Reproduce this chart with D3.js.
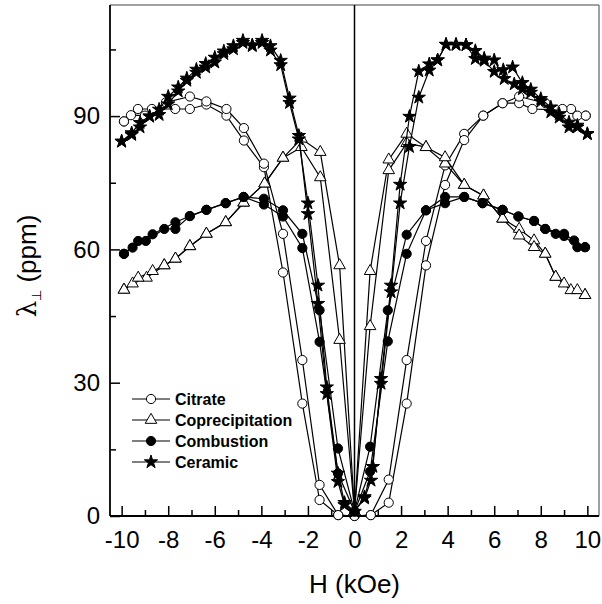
<!DOCTYPE html>
<html>
<head>
<meta charset="utf-8">
<script src="https://cdnjs.cloudflare.com/ajax/libs/d3/7.8.5/d3.min.js"></script>
<style>
body { margin: 0; background: #fff; }
svg { font-family: Arial, "Liberation Sans", sans-serif; }
</style>
</head>
<body>
<svg width="602" height="604"></svg>
<script>
// each loop: field swept down from +10 to -10, then back up
let citrateDown = [[9.93,90.1],[9.3,91.6],[8.64,91.4],[7.64,91.6],[7.07,92.9],[6.36,92.9],[5.53,90.1],[4.71,86.0],[3.89,78.9],[3.07,61.9],[2.24,35.1],[1.47,8.2],[0.7,0.2],[0,0],[-0.7,0.2],[-1.5,3.6],[-2.24,25.3],[-3.07,54.8],[-3.89,78.5],[-4.75,84.5],[-5.5,90.1],[-6.36,92.6],[-7.07,91.6],[-7.7,91.6],[-8.7,91.6],[-9.3,91.6],[-9.9,88.8]];
let citrateUp = [[-9.9,88.8],[-9.6,90.2],[-9.0,90.1],[-8.1,93.1],[-7.07,94.4],[-6.36,93.3],[-5.5,91.6],[-4.75,87.3],[-3.89,79.3],[-3.07,63.5],[-2.24,35.1],[-1.5,7.0],[-0.7,0.2],[0,0],[0.7,0.2],[1.47,3.0],[2.24,25.3],[3.07,56.4],[3.89,74.5],[4.71,84.6],[5.53,90.1],[6.36,92.9],[7.07,94.4],[8.2,92.9],[8.93,91.6],[9.57,90.1],[9.93,90.1]];

let coprecDown = [[9.9,49.7],[9.29,50.8],[8.64,53.8],[8.19,59.0],[7.71,62.0],[7.07,64.6],[6.36,66.9],[5.54,72.1],[4.71,74.5],[3.89,79.3],[3.07,83.0],[2.24,86.0],[1.47,80.2],[0.67,55.1],[0,1.0],[-0.64,39.6],[-1.47,76.2],[-2.28,83.0],[-3.07,80.6],[-3.86,74.8],[-4.76,70.5],[-5.53,66.1],[-6.36,63.5],[-7.07,60.7],[-7.69,57.9],[-8.17,56.4],[-8.93,53.6],[-9.53,52.3],[-9.9,50.9]];
let coprecUp = [[-9.9,50.9],[-9.29,53.6],[-8.67,55.1],[-8.17,56.4],[-7.69,57.9],[-7.07,60.7],[-6.36,63.5],[-5.53,66.1],[-4.76,70.5],[-3.86,74.8],[-3.07,80.6],[-2.28,84.9],[-1.47,81.9],[-0.64,56.4],[0,1.0],[0.67,42.7],[1.47,77.8],[2.24,83.9],[3.07,83.0],[3.89,80.7],[4.71,74.5],[5.54,72.1],[6.36,66.9],[7.07,63.1],[7.71,60.5],[8.19,59.0],[8.64,53.8],[9.0,52.3],[9.57,50.8],[9.9,49.7]];

let combDown = [[9.9,60.5],[9.43,62.0],[9.0,63.5],[8.19,64.6],[7.71,66.4],[7.04,67.4],[6.36,68.9],[5.5,70.4],[4.71,71.8],[3.89,71.8],[3.07,68.8],[2.24,63.3],[1.43,46.3],[0.67,15.6],[0,1.0],[-0.71,9.6],[-1.5,39.2],[-2.24,60.3],[-3.07,67.4],[-3.89,70.1],[-4.76,71.8],[-5.53,70.4],[-6.36,68.9],[-7.07,67.5],[-7.69,64.6],[-8.17,64.6],[-8.96,61.9],[-9.53,60.4],[-9.9,59.0]];
let combUp = [[-9.9,59.0],[-9.29,61.9],[-8.67,63.4],[-7.69,66.1],[-7.07,67.5],[-6.36,68.9],[-5.53,70.4],[-4.76,71.8],[-3.89,71.4],[-3.07,68.8],[-2.24,63.5],[-1.5,46.3],[-0.71,15.2],[0,1.0],[0.67,10.0],[1.43,39.3],[2.24,59.0],[3.07,68.8],[3.89,70.4],[4.71,71.8],[5.5,70.4],[6.36,68.9],[7.04,67.4],[7.71,66.4],[8.19,64.6],[8.64,63.5],[9.0,63.0],[9.57,60.5],[9.9,60.5]];

let ceramicDown = [[10.0,86.0],[9.57,87.9],[9.21,88.6],[8.79,90.5],[8.43,92.0],[8.0,93.9],[7.57,96.0],[7.21,97.5],[6.79,101.0],[6.39,100.4],[6.0,100.0],[5.57,102.5],[5.19,102.9],[4.79,106.0],[4.36,106.1],[3.93,106.1],[3.57,102.6],[3.21,101.7],[2.76,100.1],[2.36,89.9],[1.96,74.6],[1.57,51.9],[1.14,30.9],[0.79,11.1],[0.43,4.3],[0,1.0],[-0.43,2.5],[-0.71,7.7],[-1.19,27.5],[-1.57,47.8],[-2.0,68.0],[-2.39,85.6],[-2.79,94.0],[-3.17,102.5],[-3.61,105.8],[-3.97,107.0],[-4.39,105.8],[-4.79,107.0],[-5.2,105.1],[-5.61,104.0],[-6.0,102.1],[-6.39,101.0],[-6.79,99.8],[-7.2,98.0],[-7.57,95.6],[-8.0,92.7],[-8.39,90.3],[-8.8,89.9],[-9.21,87.5],[-9.57,85.8],[-10.0,84.3]];
let ceramicUp = [[-10.0,84.3],[-9.57,86.2],[-9.21,88.5],[-8.8,90.0],[-8.39,91.5],[-8.0,94.4],[-7.57,96.5],[-7.2,98.5],[-6.79,100.5],[-6.39,101.8],[-6.0,103.2],[-5.61,104.6],[-5.2,105.8],[-4.79,106.5],[-4.39,106.0],[-3.97,106.5],[-3.61,104.8],[-3.17,101.5],[-2.79,93.0],[-2.39,84.8],[-2.0,70.4],[-1.57,51.9],[-1.19,29.0],[-0.71,9.6],[-0.43,3.0],[0,1.0],[0.43,4.0],[0.71,8.0],[1.14,29.8],[1.57,50.4],[1.96,70.4],[2.36,83.1],[2.76,94.2],[3.21,100.3],[3.57,102.6],[3.93,106.1],[4.36,106.1],[4.79,106.0],[5.19,104.7],[5.57,103.0],[6.0,102.6],[6.43,98.4],[6.86,97.2],[7.21,96.1],[7.57,95.3],[8.0,93.3],[8.43,90.9],[8.79,89.7],[9.21,87.5],[9.57,87.5],[10.0,86.0]];

let seriesNames = ["Citrate", "Coprecipitation", "Combustion", "Ceramic"];
let xTicks = [-10, -8, -6, -4, -2, 0, 2, 4, 6, 8, 10];
let xMinor = [-9, -7, -5, -3, -1, 1, 3, 5, 7, 9];
let yTicks = [0, 30, 60, 90];
let yMinor = [15, 45, 75, 105];

let series = [
    {name: seriesNames[0], loops: [citrateDown, citrateUp], shape: "circle", fill: "#fff"},
    {name: seriesNames[1], loops: [coprecDown, coprecUp], shape: "triangle", fill: "#fff"},
    {name: seriesNames[2], loops: [combDown, combUp], shape: "circle", fill: "#000"},
    {name: seriesNames[3], loops: [ceramicDown, ceramicUp], shape: "star", fill: "#000"}
];

let svg = d3.select("svg"),
    margin = {top: 5, right: 3, bottom: 88, left: 110},
    width = svg.attr("width") - margin.left - margin.right,
    height = svg.attr("height") - margin.top - margin.bottom,
    g = svg.append("g").attr("transform", "translate(" + margin.left + "," + margin.top + ")");

let x = d3.scaleLinear().domain([-10.5, 10.5]).range([0, width]),
    y = d3.scaleLinear().domain([0, 115]).range([height, 0]);

let line = d3.line()
    .x(function(d) { return x(d[0]); })
    .y(function(d) { return y(d[1]); });

function drawMarker(sel, s) {
    if (s.shape === "circle") {
        sel.append("circle").attr("r", 4.6);
    } else {
        let type = s.shape === "star" ? d3.symbolStar : d3.symbolTriangle;
        let size = s.shape === "star" ? 55 : 58;
        sel.append("path").attr("d", d3.symbol().type(type).size(size)());
    }
    sel.selectAll("circle, path")
        .attr("fill", s.fill)
        .attr("stroke", "#000")
        .attr("stroke-width", 1);
}

// axes, ticks pointing inward
function styleAxis(a) {
    a.select(".domain").remove();
    a.selectAll("line").attr("stroke", "#000").attr("stroke-width", 1.5);
    a.selectAll("text").attr("fill", "#000").style("font-size", "24px");
}

g.append("g")
    .attr("transform", "translate(0," + height + ")")
    .call(d3.axisBottom(x).tickValues(xTicks).tickSize(-10).tickPadding(15).tickFormat(function(d) { return String(d); }))
    .call(styleAxis);

g.append("g")
    .attr("transform", "translate(0," + height + ")")
    .call(d3.axisBottom(x).tickValues(xMinor).tickSize(-6).tickFormat(""))
    .call(styleAxis);

g.append("g")
    .call(d3.axisLeft(y).tickValues(yTicks).tickSize(-10).tickPadding(10))
    .call(styleAxis);

g.append("g")
    .call(d3.axisLeft(y).tickValues(yMinor).tickSize(-6).tickFormat(""))
    .call(styleAxis);

// frame
g.append("line").attr("x1", 0).attr("x2", width).attr("y1", 0).attr("y2", 0)
    .attr("stroke", "#808080").attr("stroke-width", 1.5);
g.append("line").attr("x1", width).attr("x2", width).attr("y1", 0).attr("y2", height)
    .attr("stroke", "#808080").attr("stroke-width", 1.5);
g.append("line").attr("x1", 0).attr("x2", 0).attr("y1", 0).attr("y2", height)
    .attr("stroke", "#000").attr("stroke-width", 1.8);
g.append("line").attr("x1", 0).attr("x2", width).attr("y1", height).attr("y2", height)
    .attr("stroke", "#000").attr("stroke-width", 1.8);
g.append("line").attr("x1", x(0)).attr("x2", x(0)).attr("y1", 0).attr("y2", height)
    .attr("stroke", "#000").attr("stroke-width", 1.5);

// data
series.forEach(function(s) {
    let sg = g.append("g").attr("class", "series");
    s.loops.forEach(function(loop) {
        sg.append("path")
            .attr("d", line(loop))
            .attr("fill", "none")
            .attr("stroke", "#000")
            .attr("stroke-width", 1.2);
    });
    s.loops.forEach(function(loop) {
        sg.selectAll(null)
            .data(loop)
            .enter().append("g")
            .attr("transform", function(d) { return "translate(" + x(d[0]) + "," + y(d[1]) + ")"; })
            .each(function() { drawMarker(d3.select(this), s); });
    });
});

// legend
let legend = g.selectAll(".legend")
    .data(series)
    .enter().append("g")
    .attr("class", "legend")
    .attr("transform", function(d, i) { return "translate(22," + (394 + i * 21) + ")"; });

legend.append("line")
    .attr("x1", 0).attr("x2", 38)
    .attr("stroke", "#000").attr("stroke-width", 1.2);

legend.append("g")
    .attr("transform", "translate(19,0)")
    .each(function(d) { drawMarker(d3.select(this), d); });

legend.append("text")
    .attr("x", 43)
    .attr("dy", "0.35em")
    .attr("fill", "#000")
    .style("font-size", "16px")
    .style("font-weight", "bold")
    .text(function(d) { return d.name; });

// axis titles
svg.append("text")
    .attr("x", margin.left + x(0))
    .attr("y", 593)
    .attr("text-anchor", "middle")
    .attr("fill", "#000")
    .style("font-size", "26px")
    .text("H (kOe)");

let yt = svg.append("text")
    .attr("transform", "translate(36,266) rotate(-90)")
    .attr("text-anchor", "middle")
    .attr("fill", "#000")
    .style("font-size", "26px");
yt.append("tspan").attr("fill", "#000").style("font-family", "'DejaVu Serif', serif").text("λ");
yt.append("tspan").attr("fill", "#000").attr("dy", 5).style("font-size", "13px").text("⊥");
yt.append("tspan").attr("fill", "#000").attr("dy", -5).text(" (ppm)");
</script>
</body>
</html>
